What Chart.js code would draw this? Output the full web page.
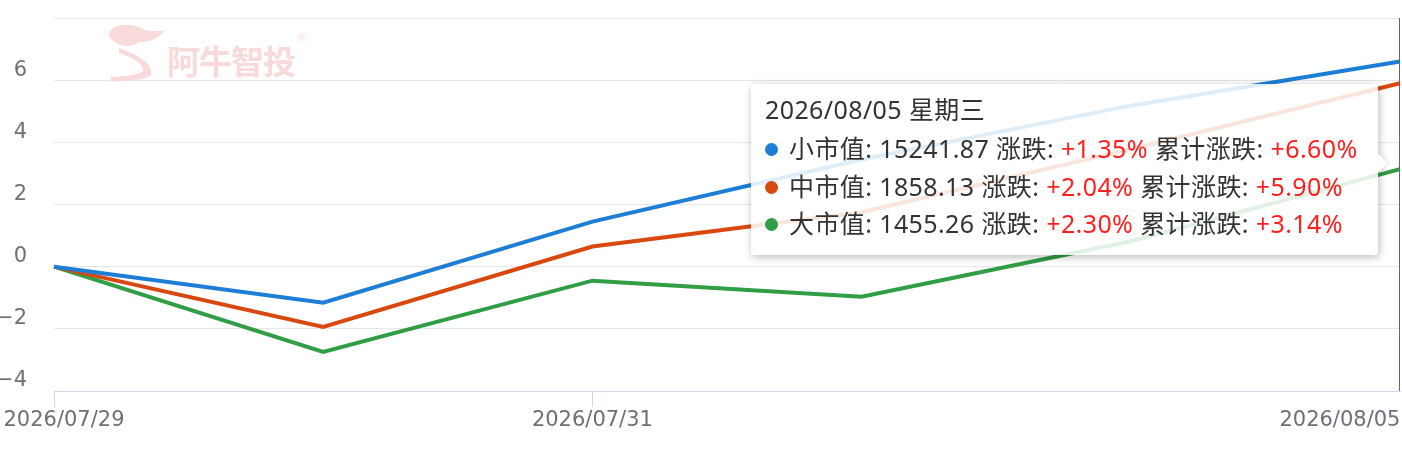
<!DOCTYPE html>
<html>
<head>
<meta charset="utf-8">
<script src="https://cdn.jsdelivr.net/npm/chart.js@4.4.1/dist/chart.umd.min.js"></script>
<style>
    body { margin: 0; background: #fff; }
    #wrap { position: relative; width: 1402px; height: 452px; }
    #logo { position: absolute; left: 95px; top: 18px; pointer-events: none; }
    #tip {
        position: absolute; display: none; pointer-events: none;
        background: rgba(255, 255, 255, 0.86);
        border-radius: 4px;
        box-shadow: 1px 2px 8px rgba(0, 0, 0, 0.28);
        padding: 8px 20px 12px 14px;
        font-family: "Noto Sans", "Noto Sans CJK SC", sans-serif;
        font-size: 25px; letter-spacing: 0.4px; color: #333; white-space: nowrap;
    }
    #tip .title { line-height: 34px; margin-bottom: 4px; }
    #tip .row { line-height: 37.5px; }
    #tip .dot { display: inline-block; width: 13px; height: 13px; border-radius: 50%; margin-right: 11px; vertical-align: 2px; }
    #tip .up { color: #ff2020; }
    #tip:after {
        content: ""; position: absolute; right: -7px; top: 73px;
        width: 12px; height: 12px; background: rgba(255, 255, 255, 0.9);
        transform: rotate(45deg); box-shadow: 2px -2px 3px rgba(0, 0, 0, 0.08);
    }
</style>
</head>
<body>
<div id="wrap">
    <canvas id="chart" width="1402" height="452"></canvas>
    <svg id="logo" width="230" height="70" viewBox="0 0 230 70">
        <path d="M14 18 C14 6 34 4 46 10 C54 14 62 14 70 12 C64 20 54 25 44 24 C36 30 22 30 14 18 Z" fill="#f9dada"/>
        <path d="M24 30 C40 36 58 44 56 56 C54 62 36 62 16 64 L16 59 C34 58 48 56 48 52 C48 45 34 38 24 35 Z" fill="#f9dada"/>
        <text x="72" y="56" font-family="Noto Sans CJK SC" font-size="33" font-weight="bold" letter-spacing="-1" fill="#f9dada">阿牛智投</text>
        <text x="201" y="24" font-family="DejaVu Sans" font-size="12" fill="#f6e2e2">®</text>
    </svg>
    <div id="tip"></div>
</div>
<script>
const dates = ['2026/07/29', '2026/07/30', '2026/07/31', '2026/08/03', '2026/08/04', '2026/08/05'];
const weekNames = ['星期三', '星期四', '星期五', '星期一', '星期二', '星期三'];
const seriesNames = ['小市值', '中市值', '大市值'];
const seriesColors = ['#1c7ed6', '#d9480f', '#2f9e44'];

// 累计涨跌 (%)
const smallCap = [0, -1.16, 1.45, 3.45, 5.18, 6.60];
const midCap = [0, -1.94, 0.65, 1.75, 3.78, 5.90];
const largeCap = [0, -2.74, -0.45, -0.97, 0.82, 3.14];

// tooltip figures of the last day
const lastClose = [15241.87, 1858.13, 1455.26];
const lastChange = [1.35, 2.04, 2.30];

const shownLabels = [0, 2, 5];
const tickMarks = [0, 2];
const yMin = -4, yMax = 8, yStep = 2;

const canvas = document.getElementById('chart');
const ctx = canvas.getContext('2d');
const axisFont = { family: 'DejaVu Sans', size: 21 };
const axisColor = '#6e7079';

// labels stay centred on their tick; spaces push the visible text sideways
function padLabel(text, i) {
    ctx.font = axisFont.size + 'px "' + axisFont.family + '"';
    const w = ctx.measureText(text).width;
    const sp = ctx.measureText(' ').width;
    if (i === 0) {
        return ' '.repeat(Math.round((w - 100) / sp)) + text;
    }
    if (i === dates.length - 1) {
        return text + ' '.repeat(Math.round(w / sp));
    }
    return text;
}

Chart.Tooltip.positioners.rightSide = function(items) {
    if (!items.length) return false;
    const area = this.chart.chartArea;
    return { x: items[0].element.x, y: area.top + (area.bottom - area.top) * 0.39 };
};

function drawTip(context) {
    const tip = context.tooltip;
    const el = document.getElementById('tip');
    if (tip.opacity === 0) {
        el.style.display = 'none';
        return;
    }
    const i = tip.dataPoints[0].dataIndex;
    let html = '<div class="title">' + dates[i] + ' ' + weekNames[i] + '</div>';
    tip.dataPoints.forEach(function(p) {
        const d = p.datasetIndex;
        html += '<div class="row"><span class="dot" style="background:' + seriesColors[d] + '"></span>' +
            seriesNames[d] + ': ' + lastClose[d].toFixed(2) + ' 涨跌: ' +
            '<span class="up">+' + lastChange[d].toFixed(2) + '%</span> 累计涨跌: ' +
            '<span class="up">+' + p.raw.toFixed(2) + '%</span></div>';
    });
    el.innerHTML = html;
    el.style.display = 'block';
    el.style.left = (tip.caretX - 22 - el.offsetWidth) + 'px';
    el.style.top = (tip.caretY - 79) + 'px';
}

const pointerLine = {
    id: 'pointerLine',
    afterDatasetsDraw(chart) {
        const active = chart.tooltip.getActiveElements();
        if (!active.length) return;
        const x = active[0].element.x;
        const c = chart.ctx;
        c.save();
        c.strokeStyle = '#666';
        c.lineWidth = 1;
        c.beginPath();
        c.moveTo(x - 0.5, chart.chartArea.top);
        c.lineTo(x - 0.5, chart.chartArea.bottom);
        c.stroke();
        c.restore();
    }
};

function makeSet(i, values) {
    return {
        label: seriesNames[i],
        data: values,
        borderColor: seriesColors[i],
        backgroundColor: seriesColors[i],
        borderWidth: 4,
        tension: 0,
        pointRadius: 0,
        pointHoverRadius: 0
    };
}

const chart = new Chart(canvas, {
    type: 'line',
    data: {
        labels: dates,
        datasets: [makeSet(0, smallCap), makeSet(1, midCap), makeSet(2, largeCap)]
    },
    options: {
        responsive: false,
        animation: false,
        events: [],
        layout: { padding: { top: 18, right: 2, left: 0, bottom: 0 } },
        plugins: {
            legend: { display: false },
            tooltip: {
                enabled: false,
                mode: 'index',
                intersect: false,
                position: 'rightSide',
                external: drawTip
            }
        },
        scales: {
            x: {
                offset: false,
                border: { display: true, color: '#ccd6eb', width: 1 },
                grid: {
                    drawOnChartArea: false,
                    tickLength: 16,
                    color: function(c) {
                        return tickMarks.indexOf(c.index) >= 0 ? '#ccd6eb' : 'rgba(0,0,0,0)';
                    }
                },
                ticks: {
                    autoSkip: false,
                    maxRotation: 0,
                    padding: 1,
                    font: axisFont,
                    color: axisColor,
                    callback: function(v, i) {
                        return shownLabels.indexOf(i) >= 0 ? padLabel(dates[i], i) : '';
                    }
                },
                afterFit: function(scale) {
                    scale.height = 61;
                    scale.paddingLeft = 0;
                    scale.paddingRight = 0;
                }
            },
            y: {
                min: yMin,
                max: yMax,
                border: { display: false },
                grid: { color: '#e6e6e6', lineWidth: 1, drawTicks: false },
                ticks: {
                    stepSize: yStep,
                    padding: 27,
                    labelOffset: -10,
                    font: axisFont,
                    color: axisColor,
                    callback: function(v) {
                        if (v === yMax) return '';
                        return v < 0 ? '\u2212' + Math.abs(v) : String(v);
                    }
                },
                afterFit: function(scale) {
                    scale.width = 54;
                    scale.paddingTop = 0;
                    scale.paddingBottom = 0;
                }
            }
        }
    },
    plugins: [pointerLine]
});

chart.tooltip.setActiveElements(
    [0, 1, 2].map(function(d) { return { datasetIndex: d, index: dates.length - 1 }; }),
    { x: 0, y: 0 }
);
chart.update();
</script>
</body>
</html>
